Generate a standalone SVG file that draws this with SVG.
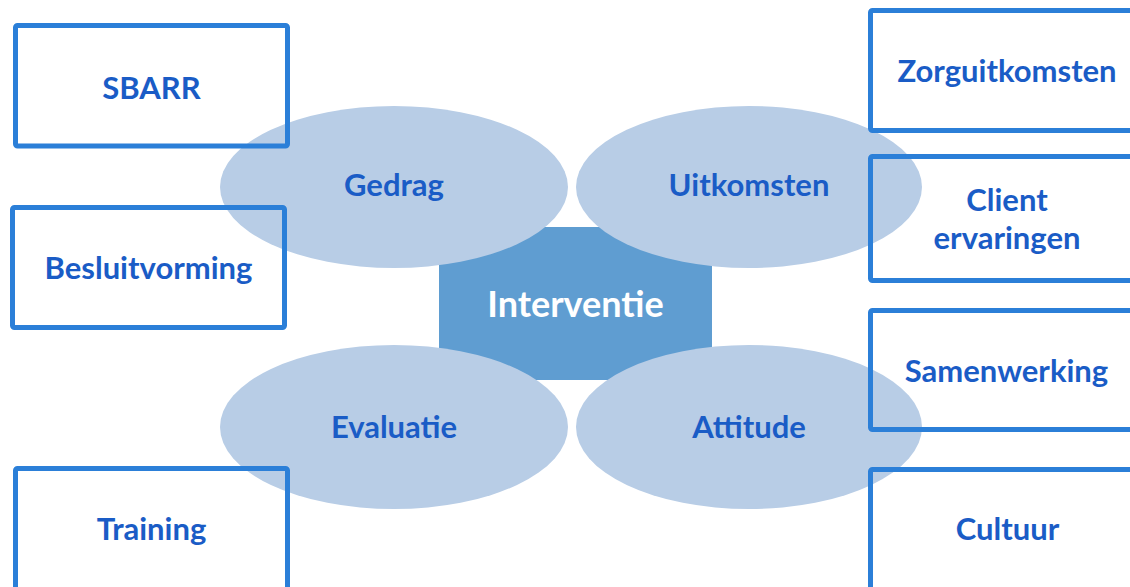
<svg xmlns="http://www.w3.org/2000/svg" width="1130" height="587" viewBox="0 0 1130 587">
<style>
.ell{fill:#b8cde6}
.box{fill:none;stroke:#2b7fd8;stroke-width:5}
.lbl{font-family:Lato,"Open Sans","Liberation Sans",sans-serif;font-weight:bold;font-size:31px;fill:#1a5cc6;text-anchor:middle}
.ctr{font-family:Lato,"Open Sans","Liberation Sans",sans-serif;font-weight:bold;font-size:36px;fill:#ffffff;text-anchor:middle}
</style>
<rect width="1130" height="587" fill="#ffffff"/>
<g id="connectors"></g>
<g id="interventie">
<rect x="439" y="227" width="273" height="153" fill="#5f9dd1"/>
</g>
<g id="gedrag"><ellipse class="ell" cx="394" cy="187" rx="174" ry="81"/><text class="lbl" x="394" y="196">Gedrag</text></g>
<g id="uitkomsten"><ellipse class="ell" cx="749" cy="187" rx="173" ry="81"/><text class="lbl" x="749" y="196">Uitkomsten</text></g>
<g id="evaluatie"><ellipse class="ell" cx="394" cy="427" rx="174" ry="82"/><text class="lbl" x="394" y="438">Evaluatie</text></g>
<g id="attitude"><ellipse class="ell" cx="749" cy="427" rx="173" ry="82"/><text class="lbl" x="749" y="438">Attitude</text></g>
<g id="interventie-label"><text class="ctr" x="575.5" y="317">Interventie</text></g>
<g id="sbarr"><rect class="box" x="15.5" y="25.5" width="272" height="120.5" rx="2"/><text class="lbl" x="151.5" y="99">SBARR</text></g>
<g id="besluitvorming"><rect class="box" x="12.5" y="207.5" width="272" height="120" rx="2"/><text class="lbl" x="148.5" y="279">Besluitvorming</text></g>
<g id="training"><rect class="box" x="15.5" y="468.5" width="272" height="130" rx="2"/><text class="lbl" x="151.5" y="540">Training</text></g>
<g id="zorguitkomsten"><rect class="box" x="870.5" y="10.5" width="272" height="120" rx="2"/><text class="lbl" x="1007" y="82">Zorguitkomsten</text></g>
<g id="client-ervaringen"><rect class="box" x="870.5" y="156.5" width="272" height="124" rx="2"/><text class="lbl" x="1007" y="211">Client</text><text class="lbl" x="1007" y="249">ervaringen</text></g>
<g id="samenwerking"><rect class="box" x="870.5" y="310.5" width="272" height="119" rx="2"/><text class="lbl" x="1006.5" y="382">Samenwerking</text></g>
<g id="cultuur"><rect class="box" x="870.5" y="469.5" width="272" height="130" rx="2"/><text class="lbl" x="1007.5" y="540">Cultuur</text></g>
</svg>
